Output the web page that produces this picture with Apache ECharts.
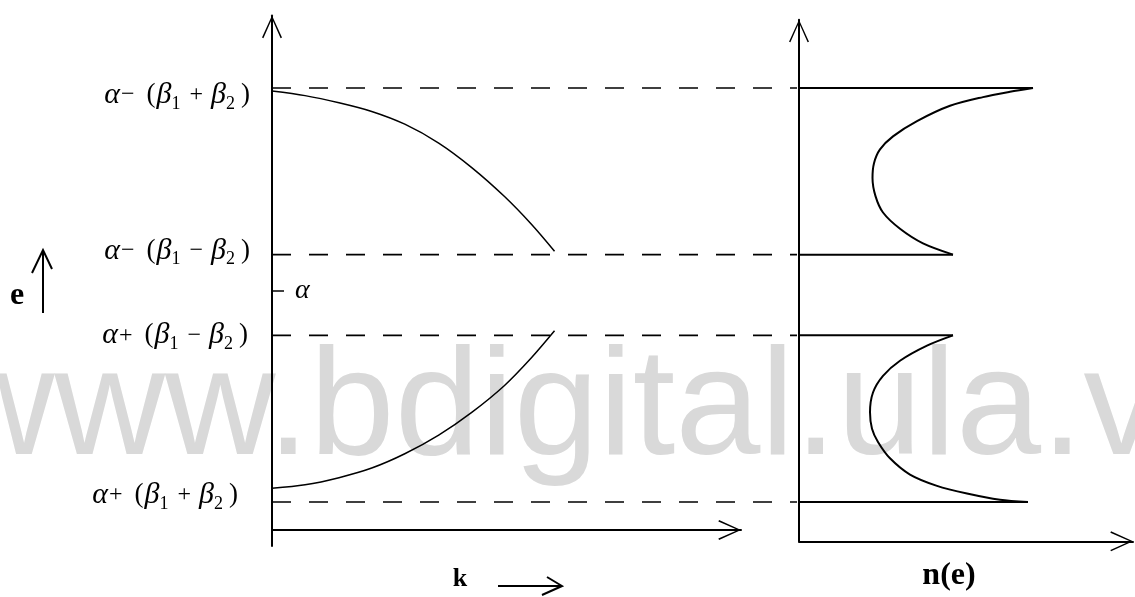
<!DOCTYPE html>
<html>
<head>
<meta charset="utf-8">
<script src="https://cdn.jsdelivr.net/npm/echarts@6/dist/echarts.min.js"></script>
<style>
  html, body { margin: 0; padding: 0; background: #ffffff; }
  #chart { width: 1135px; height: 597px; }
</style>
</head>
<body>
<div id="chart"></div>
<script>
// ---- data -----------------------------------------------------------------
// Energies measured from alpha (alpha = 0); the band edges of the dimerised chain.
const bandEdges = [2.0, 0.39, -0.39, -2.0];
const edgeLabels = ['α−(β1 + β2)', 'α−(β1 − β2)', 'α+(β1 − β2)', 'α+(β1 + β2)'];
const alphaLevel = 0;
const alphaLabel = 'α';

// Dispersion e(k), k in units of pi/a
const kPoints = [0, 0.117, 0.237, 0.353, 0.47, 0.59, 0.707, 0.823, 0.919, 1];
const eUpperBand = [1.96, 1.915, 1.845, 1.76, 1.635, 1.45, 1.21, 0.926, 0.652, 0.39];
const eLowerBand = [-1.935, -1.90, -1.83, -1.736, -1.596, -1.413, -1.19, -0.926, -0.652, -0.39];

// Density of states n(e): outline of each band, from outer edge to inner edge
const nUpperDos = [2.34, 2.11, 1.84, 1.51, 1.18, 0.94, 0.81, 0.75, 0.735, 0.765, 0.84, 1.01, 1.24, 1.54];
const eUpperDos = [2.0, 1.963, 1.912, 1.828, 1.68, 1.533, 1.407, 1.274, 1.13, 0.955, 0.797, 0.64, 0.499, 0.39];
const nLowerDos = [1.54, 1.28, 1.01, 0.84, 0.74, 0.71, 0.73, 0.79, 0.91, 1.11, 1.38, 1.68, 2.01, 2.29];
const eLowerDos = [-0.39, -0.489, -0.635, -0.781, -0.942, -1.134, -1.292, -1.42, -1.578, -1.735, -1.844, -1.918, -1.978, -2.0];

const kAxisName = 'k';
const dosAxisName = 'n(e)';
const energyName = 'e';
const watermark = 'www.bdigital.ula.ve';

// ---- layout ---------------------------------------------------------------
const E_ZERO_PX = 295;     // pixel row of alpha
const PX_PER_E = 103.5;    // pixels per energy unit
function rows(min, max) {
  return { top: E_ZERO_PX - max * PX_PER_E, height: (max - min) * PX_PER_E };
}
const leftE = { min: -2.5, max: 2.7 };
const rightE = { min: -2.38, max: 2.66 };

// per-label nudges [dx, dy] for the edge labels
const edgeLabelNudge = [[0, 7], [0, -4], [-2, 0], [-12, -7]];

const INK = '#000000';
const SERIF = '"Liberation Serif", "DejaVu Serif", serif';

// open arrow head (pointing up) used at the end of every axis
const arrowHead = 'path://M10,0 L20,22 L18.6,22.7 L10,3.2 L1.4,22.7 L0,22 Z';
function axisLineWithArrow() {
  return {
    show: true,
    onZero: false,
    symbol: ['none', arrowHead],
    symbolSize: [20, 22.7],
    symbolOffset: [0, -11.3],
    lineStyle: { color: INK, width: 2 }
  };
}

// rich-text pieces of the edge formulas: greek letters, subscripts, operators, brackets
const formulaRich = {
  g: { fontFamily: SERIF, fontStyle: 'italic', fontSize: 30, lineHeight: 40, color: INK },
  s: { fontFamily: SERIF, fontSize: 18, lineHeight: 18, padding: [18, 1, 0, 0], color: INK },
  o1: { fontFamily: SERIF, fontSize: 24, lineHeight: 40, padding: [0, 12, 0, 1], color: INK },
  o2: { fontFamily: SERIF, fontSize: 24, lineHeight: 40, padding: [0, 8, 0, 8], color: INK },
  lp: { fontFamily: SERIF, fontSize: 27, lineHeight: 40, padding: [0, 1, 0, 0], color: INK },
  rp: { fontFamily: SERIF, fontSize: 27, lineHeight: 40, padding: [0, 0, 0, 5], color: INK }
};
function toRich(str) {
  let out = '';
  let ops = 0;
  for (const ch of str) {
    if (ch === ' ') continue;
    if (ch === 'α' || ch === 'β') out += '{g|' + ch + '}';
    else if (/[0-9]/.test(ch)) out += '{s|' + ch + '}';
    else if (ch === '(') out += '{lp|(}';
    else if (ch === ')') out += '{rp|)}';
    else { out += (ops === 0 ? '{o1|' : '{o2|') + ch + '}'; ops++; }
  }
  return out;
}

// ---- series ---------------------------------------------------------------
const series = [];

// dashed band-edge guides with their labels
bandEdges.forEach(function (e, i) {
  const nudge = edgeLabelNudge[i];
  series.push({
    type: 'line',
    xAxisIndex: 0, yAxisIndex: 0,
    silent: true,
    symbol: 'circle', symbolSize: 0, showSymbol: true,
    lineStyle: { color: INK, width: 1.6, type: [19, 18] },
    itemStyle: { color: INK },
    data: [
      {
        value: [0, e],
        label: {
          show: true, position: 'left', distance: 22,
          offset: nudge,
          formatter: toRich(edgeLabels[i]),
          rich: formulaRich
        }
      },
      [1, e]
    ]
  });
});

function curve(xs, ys, grid, width, smooth) {
  return {
    type: 'line',
    xAxisIndex: grid, yAxisIndex: grid,
    silent: true, symbol: 'none', smooth: smooth,
    lineStyle: { color: INK, width: width },
    data: xs.map(function (x, i) { return [x, ys[i]]; })
  };
}

// e(k) branches
series.push(curve(kPoints, eUpperBand, 1, 1.5, 0.3));
series.push(curve(kPoints, eLowerBand, 1, 1.5, 0.3));

// n(e) outlines: curved part plus the flat edges back to the axis
series.push(curve(nUpperDos, eUpperDos, 2, 2, 0.3));
series.push(curve(nLowerDos, eLowerDos, 2, 2, 0.3));
[[nUpperDos, eUpperDos], [nLowerDos, eLowerDos]].forEach(function (pair) {
  const ns = pair[0], es = pair[1];
  const last = ns.length - 1;
  series.push(curve([0, ns[0]], [es[0], es[0]], 2, 2, false));
  series.push(curve([0, ns[last]], [es[last], es[last]], 2, 2, false));
});

// ---- chart ----------------------------------------------------------------
const chart = echarts.init(document.getElementById('chart'), null, { renderer: 'canvas' });

const hidden = { show: false };
const option = {
  backgroundColor: '#ffffff',
  animation: false,
  textStyle: { fontFamily: SERIF, color: INK },
  grid: [
    Object.assign({ left: 272, width: 525 }, rows(leftE.min, leftE.max)),
    Object.assign({ left: 272, width: 469 }, rows(leftE.min, leftE.max)),
    Object.assign({ left: 799, width: 334 }, rows(rightE.min, rightE.max))
  ],
  xAxis: [
    { gridIndex: 0, type: 'value', min: 0, max: 1, show: false },
    {
      gridIndex: 1, type: 'value', min: 0, max: 1.66, offset: -16,
      axisLine: axisLineWithArrow(),
      axisTick: hidden, axisLabel: hidden, splitLine: hidden,
      name: kAxisName, nameLocation: 'middle', nameGap: 36,
      nameTextStyle: { fontFamily: SERIF, fontWeight: 'bold', fontSize: 26, color: INK, padding: [0, 93, 0, 0] }
    },
    {
      gridIndex: 2, type: 'value', min: 0, max: 3.34,
      axisLine: axisLineWithArrow(),
      axisTick: hidden, axisLabel: hidden, splitLine: hidden,
      name: dosAxisName, nameLocation: 'middle', nameGap: 18,
      nameTextStyle: { fontFamily: SERIF, fontWeight: 'bold', fontSize: 32, color: INK, padding: [0, 34, 0, 0] }
    }
  ],
  yAxis: [
    { gridIndex: 0, type: 'value', min: leftE.min, max: leftE.max, show: false },
    {
      gridIndex: 1, type: 'value', min: leftE.min, max: leftE.max,
      axisLine: axisLineWithArrow(),
      axisTick: { show: true, inside: true, length: 12, customValues: [alphaLevel], lineStyle: { color: INK, width: 1.5 } },
      axisLabel: {
        show: true, inside: true, margin: 23, customValues: [alphaLevel],
        formatter: function () { return alphaLabel; },
        fontFamily: SERIF, fontStyle: 'italic', fontSize: 28, color: INK
      },
      splitLine: hidden
    },
    {
      gridIndex: 2, type: 'value', min: rightE.min, max: rightE.max,
      axisLine: axisLineWithArrow(),
      axisTick: hidden, axisLabel: hidden, splitLine: hidden
    }
  ],
  graphic: {
    elements: [
      {
        type: 'text', z: -10, silent: true,
        x: -56, y: 412,
        style: {
          text: watermark,
          font: '153px "Liberation Sans", Arial, sans-serif',
          fill: '#d9d9d9',
          align: 'left', verticalAlign: 'middle'
        }
      },
      {
        type: 'text', silent: true, x: 10, y: 296,
        style: {
          text: energyName,
          font: 'bold 32px ' + SERIF,
          fill: INK, align: 'left', verticalAlign: 'middle'
        }
      },
      {
        type: 'polyline', silent: true,
        shape: { points: [[43, 313], [43, 251]] },
        style: { stroke: INK, lineWidth: 2, fill: null }
      },
      {
        type: 'polyline', silent: true,
        shape: { points: [[32, 273], [43, 250], [52, 269]] },
        style: { stroke: INK, lineWidth: 2, fill: null }
      },
      {
        type: 'polyline', silent: true,
        shape: { points: [[498, 586], [561, 586]] },
        style: { stroke: INK, lineWidth: 2, fill: null }
      },
      {
        type: 'polyline', silent: true,
        shape: { points: [[547, 577], [562, 586], [542, 595]] },
        style: { stroke: INK, lineWidth: 2, fill: null }
      }
    ]
  },
  series: series
};

chart.setOption(option);
</script>
</body>
</html>
